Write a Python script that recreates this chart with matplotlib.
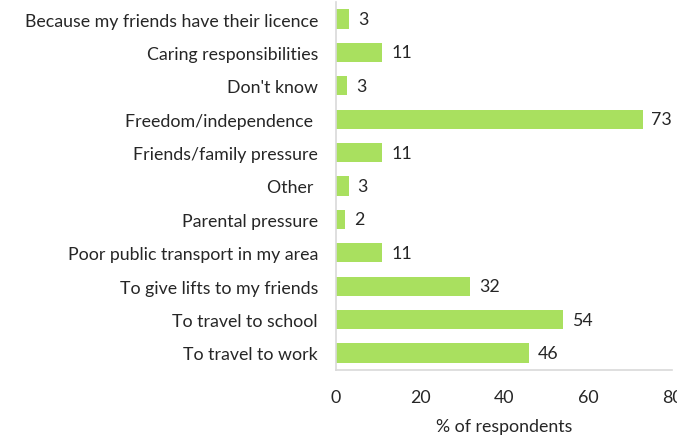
import matplotlib
matplotlib.use("Agg")
import matplotlib.pyplot as plt

categories = [
    "Because my friends have their licence",
    "Caring responsibilities",
    "Don't know",
    "Freedom/independence ",
    "Friends/family pressure",
    "Other ",
    "Parental pressure",
    "Poor public transport in my area",
    "To give lifts to my friends",
    "To travel to school",
    "To travel to work",
]
values = [3.1, 11, 2.7, 73, 11, 3, 2.1, 11, 32, 54, 46]
value_labels = ["3", "11", "3", "73", "11", "3", "2", "11", "32", "54", "46"]
xticks = [0, 20, 40, 60, 80]

plt.rcParams['font.family'] = ['Lato', 'DejaVu Sans']
fs = 12.8
fig = plt.figure(figsize=(6.77, 4.39), dpi=100)
ax = fig.add_axes([336/677, 1-370.7/439, 336/677, (370.7-3.3)/439])

ypos = list(range(len(categories)))
ax.barh(ypos, values, height=0.57, color="#A9E05F")
for y, v, lab in zip(ypos, values, value_labels):
    ax.text(v + 2.1, y, lab, va="center", ha="left", fontsize=fs, color="#262626")

ax.set_xlim(0, 80)
ax.set_ylim(len(categories) - 0.5, -0.5)
ax.set_yticks(ypos)
ax.set_yticklabels(categories, fontsize=fs, color="#262626")
ax.set_xticks(xticks)
ax.set_xticklabels([str(t) for t in xticks], fontsize=fs, color="#262626")
ax.tick_params(axis="y", length=0, pad=13)
ax.tick_params(axis="x", length=0, pad=14)
ax.set_xlabel("% of respondents", fontsize=fs, color="#262626", labelpad=9)
for s in ["top", "right"]:
    ax.spines[s].set_visible(False)
for s in ["left", "bottom"]:
    ax.spines[s].set_color("#D9D9D9")
    ax.spines[s].set_linewidth(1.2)

fig.savefig("out.png", dpi=100)
